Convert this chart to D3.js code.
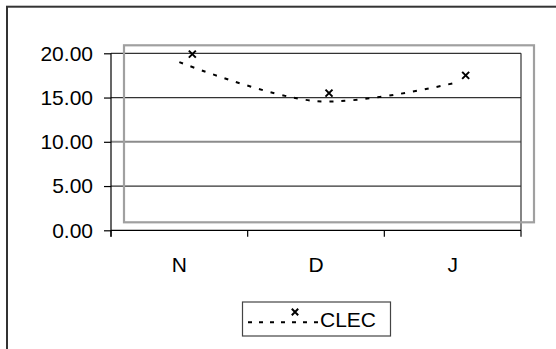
<!DOCTYPE html>
<html>
<head>
<meta charset="utf-8">
<script src="https://cdn.jsdelivr.net/npm/d3@7"></script>
<style>
  html, body { margin: 0; padding: 0; background: #fff; }
  svg { display: block; }
  text { font-family: "Liberation Sans", Arial, sans-serif; fill: #000; }
</style>
</head>
<body>
<svg id="chart" width="556" height="349"></svg>
<script>
// ---- data ----
const categories = ["N", "D", "J"];
const seriesName = "CLEC";
const clecValues = [19.0, 14.6, 16.6];
const yTicks = [0, 5, 10, 15, 20];
const yTickLabels = ["0.00", "5.00", "10.00", "15.00", "20.00"];

(function () {
const svg = d3.select("#chart");

// outer frame (extends past right and bottom edges)
svg.append("rect")
  .attr("x", 7).attr("y", 6.7)
  .attr("width", 600).attr("height", 400)
  .attr("fill", "none").attr("stroke", "#333").attr("stroke-width", 2);

// main plot area
const pLeft = 111, pRight = 521, pTop = 53.3, pBottom = 230.3;
const x = d3.scaleBand().domain(categories).range([pLeft, pRight]).padding(0);
const y = d3.scaleLinear().domain([0, 20]).range([pBottom, pTop]);

// shifted plot area (where the markers sit)
const dx = 13, dy = -8;
const x2 = d3.scaleBand().domain(categories).range([pLeft + dx, pRight + dx]).padding(0);
const y2 = d3.scaleLinear().domain([0, 20]).range([pBottom + dy, pTop + dy]);

// gridlines
const g = svg.append("g");
yTicks.filter(t => t > 0).forEach(t => {
  const isGray = t === 10;
  g.append("line")
    .attr("x1", pLeft).attr("x2", pRight)
    .attr("y1", y(t)).attr("y2", y(t))
    .attr("stroke", isGray ? "#8c8c8c" : "#333")
    .attr("stroke-width", isGray ? 2 : 1.2);
});
// right edge of plot area
g.append("line")
  .attr("x1", pRight).attr("x2", pRight)
  .attr("y1", pTop).attr("y2", pBottom)
  .attr("stroke", "#333").attr("stroke-width", 1.2);

// gray shifted plot area frame
svg.append("rect")
  .attr("x", pLeft + dx).attr("y", pTop + dy)
  .attr("width", pRight - pLeft).attr("height", pBottom - pTop)
  .attr("fill", "none").attr("stroke", "#a0a0a0").attr("stroke-width", 2.2);

// y axis
const yAxis = d3.axisLeft(y).tickValues(yTicks)
  .tickFormat((d, i) => yTickLabels[i]).tickSize(7).tickPadding(11);
const ya = svg.append("g").attr("transform", `translate(${pLeft},0)`).call(yAxis);
ya.select(".domain").attr("stroke", "#000").attr("stroke-width", 1.2)
  .attr("d", `M0,${pTop}V${pBottom + 6.5}`);
ya.selectAll(".tick line").attr("stroke", "#000").attr("stroke-width", 1.2);
ya.selectAll(".tick text")
  .style("font-family", '"Liberation Sans", Arial, sans-serif')
  .style("font-size", "21px").attr("fill", "#000");

// x axis
const xa = svg.append("g").attr("transform", `translate(0,${pBottom})`);
xa.append("line").attr("x1", pLeft).attr("x2", pRight).attr("y1", 0).attr("y2", 0)
  .attr("stroke", "#000").attr("stroke-width", 1.2);
const xTickPos = categories.map(c => x(c)).concat([pRight]);
xa.selectAll("line.xt").data(xTickPos).enter().append("line")
  .attr("class", "xt")
  .attr("x1", d => d).attr("x2", d => d).attr("y1", 0).attr("y2", 6.5)
  .attr("stroke", "#000").attr("stroke-width", 1.2);
xa.selectAll("text").data(categories).enter().append("text")
  .attr("x", d => x(d) + x.bandwidth() / 2)
  .attr("y", 41.5)
  .attr("text-anchor", "middle")
  .style("font-size", "21px")
  .text(d => d);

// smoothed dotted line on main scales
const pts = categories.map((c, i) => [x(c) + x.bandwidth() / 2, y(clecValues[i])]);
svg.append("path")
  .attr("d", d3.line().curve(d3.curveCardinal.tension(0))(pts))
  .attr("fill", "none").attr("stroke", "#000")
  .attr("stroke-width", 2).attr("stroke-dasharray", "4,8");

// x markers on shifted scales
function drawX(cx, cy, s) {
  svg.append("path")
    .attr("d", `M${cx - s},${cy - s}L${cx + s},${cy + s}M${cx - s},${cy + s}L${cx + s},${cy - s}`)
    .attr("stroke", "#000").attr("stroke-width", 2).attr("fill", "none");
}
categories.forEach((c, i) => {
  drawX(x2(c) + x2.bandwidth() / 2, y2(clecValues[i]), 3.5);
});

// legend
const lg = svg.append("g");
lg.append("rect").attr("x", 242.5).attr("y", 302).attr("width", 148).attr("height", 34)
  .attr("fill", "#fff").attr("stroke", "#444").attr("stroke-width", 1.2);
lg.append("line").attr("x1", 248).attr("x2", 318).attr("y1", 322.3).attr("y2", 322.3)
  .attr("stroke", "#000").attr("stroke-width", 2).attr("stroke-dasharray", "4,7");
drawX(295, 312, 3.2);
lg.append("text").attr("x", 320).attr("y", 327).style("font-size", "21px").text(seriesName);
})();
</script>
</body>
</html>
